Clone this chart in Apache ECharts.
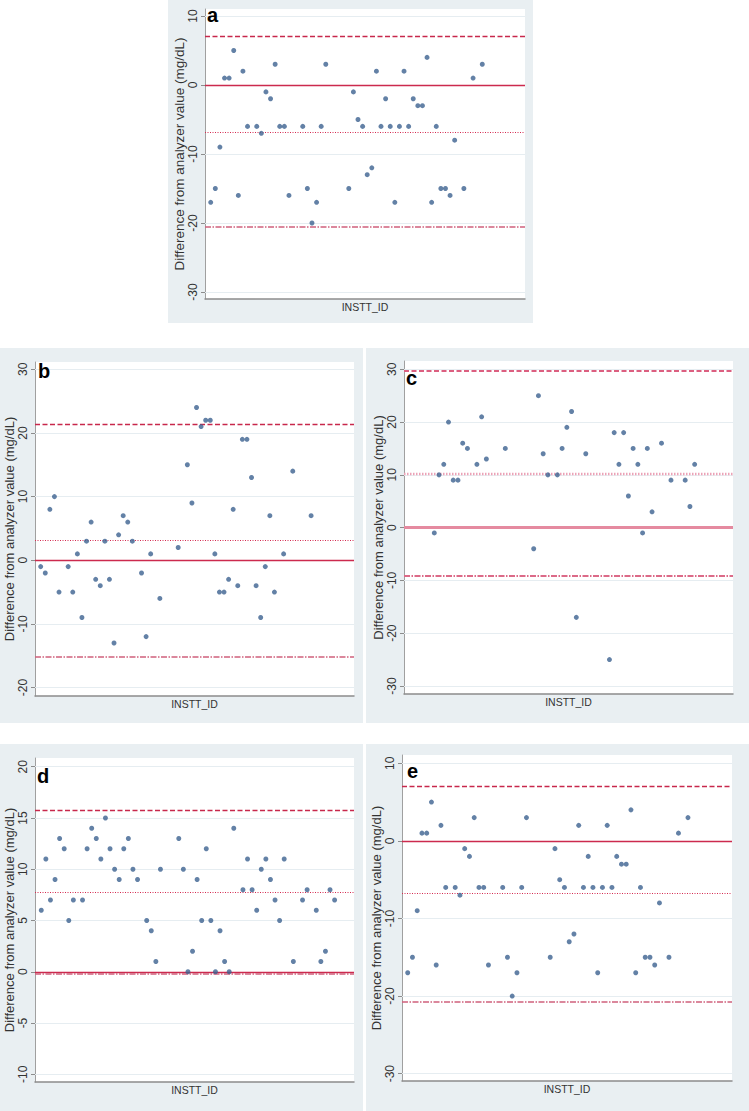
<!DOCTYPE html>
<html><head><meta charset="utf-8">
<script src="https://cdn.jsdelivr.net/npm/echarts@6/dist/echarts.min.js"></script>
<style>html,body{margin:0;padding:0;background:#fff}#c{width:749px;height:1111px}</style>
</head><body><div id="c"></div>
<script>
// ---------- DATA ----------
// Panels a and e show the same data
const aeIdx = [0,1,2,3,4,5,6,7,8,10,11,12,13,14,15,16,17,20,21,22,23,24,25,30,31,32,33,34,35,36,37,38,39,40,41,42,43,44,45,46,47,48,49,50,51,52,53,55,57,59];
const aeDiff = [-17,-15,-9,1,1,5,-16,2,-6,-6,-7,-1,-2,3,-6,-6,-16,-6,-15,-20,-17,-6,3,-15,-1,-5,-6,-13,-12,2,-6,-2,-6,-17,-6,2,-6,-2,-3,-3,4,-17,-6,-15,-15,-16,-8,-15,1,3];
const bIdx = [0,1,2,3,4,6,7,8,9,10,11,12,13,14,15,16,17,18,19,20,22,23,24,26,30,32,33,34,35,36,37,38,39,40,41,42,43,44,45,46,47,48,49,50,51,53,55,59];
const bDiff = [-1,-2,8,10,-5,-1,-5,1,-9,3,6,-3,-4,3,-3,-13,4,7,6,3,-2,-12,1,-6,2,15,9,24,21,22,22,1,-5,-5,-3,8,-4,19,19,13,-4,-9,-1,7,-5,1,14,7];
const cIdx = [0,1,2,3,4,5,6,7,9,10,11,15,21,22,23,24,26,27,28,29,30,32,37,38,39,40,41,42,43,44,45,46,48,50,53,54,55];
const cDiff = [-1,10,12,20,9,9,16,15,12,21,13,15,-4,25,14,10,10,15,19,22,-17,14,-25,18,12,18,6,15,12,-1,15,3,16,9,9,4,12];
const dIdx = [0,1,2,3,4,5,6,7,9,10,11,12,13,14,15,16,17,18,19,20,21,23,24,25,26,30,31,32,33,34,35,36,37,38,39,40,41,42,44,45,46,47,48,49,50,51,52,53,55,57,58,60,61,62,63,64];
const dDiff = [6,11,7,9,13,12,5,7,7,12,14,13,11,15,12,10,9,12,13,10,9,5,4,1,10,13,10,0,2,9,5,12,5,0,4,1,0,14,8,11,8,6,10,11,9,7,5,11,1,7,8,6,1,2,8,7];
// reference lines: [upper limit (dashed), mean (dotted), zero (solid), lower limit (dash-dot)]
const aRef = [7.1, -6.8, 0, -20.6];
const bRef = [21.4, 3.1, 0, -15.2];
const cRef = [29.8, 10.2, 0, -9.2];
const dRef = [15.8, 7.8, 0, -0.2];
const eRef = [7.1, -6.8, 0, -20.7];
// y tick labels
const aTicks = [-30,-20,-10,0,10];
const bTicks = [-20,-10,0,10,20,30];
const cTicks = [-30,-20,-10,0,10,20,30];
const dTicks = [-10,-5,0,5,10,15,20];
const eTicks = [-30,-20,-10,0,10];
const panelLetters = ['a','b','c','d','e'];
const yTitle = 'Difference from analyzer value (mg/dL)';
const xTitle = 'INSTT_ID';

// ---------- LAYOUT / STYLE ----------
const layout = [
  {bg:[168,0,365,323], grid:[205,9,320,290], x:[-1.24,68.28], y:[-31.01,11.01], letter:[207,15]},
  {bg:[0,348,363,375], grid:[35,362,319,334], x:[-1.24,68.36], y:[-21.33,31.15], letter:[38,371]},
  {bg:[366,348,383,375], grid:[404,361,329,333], x:[-6.4,63.1], y:[-31.52,31.57], letter:[406,378]},
  {bg:[0,744,363,367], grid:[35,758,319,324], x:[-1.37,68.23], y:[-10.75,20.85], letter:[37,776]},
  {bg:[366,744,383,367], grid:[402,755,330,326], x:[-1.2,68.27], y:[-30.95,11.07], letter:[407,771]}
];
const data = [[aeIdx,aeDiff],[bIdx,bDiff],[cIdx,cDiff],[dIdx,dDiff],[aeIdx,aeDiff]];
const refs = [aRef,bRef,cRef,dRef,eRef];
const ticks = [aTicks,bTicks,cTicks,dTicks,eTicks];

const normalStyles = [
  {type:[5,2.5], color:'#c8284c', width:1.3},
  {type:[1,1.5], color:'#d42a50', width:1},
  {type:'solid', color:'#cc2a4e', width:1.3},
  {type:[6,1.5,1.5,1.5], color:'#d0607c', width:1.6}
];
const pinkStyles = [
  {type:[5,2.5], color:'#dc5f80', width:1.8},
  {type:[1.5,1.5], color:'#eba2b6', width:2.4},
  {type:'solid', color:'#e58aa0', width:3},
  {type:[6,1.5,1.5,1.5], color:'#dc6a88', width:2}
];

// narrow font detection for the x title
function hasFont(f){
  const cv=document.createElement('canvas').getContext('2d');
  cv.font='20px monospace'; const w0=cv.measureText('INSTT_ID abcmw').width;
  cv.font='20px "'+f+'", monospace'; return cv.measureText('INSTT_ID abcmw').width!==w0;
}
const narrow = hasFont('Liberation Sans Narrow');
const xNameStyle = narrow ? {fontFamily:'"Liberation Sans Narrow"', fontSize:12.5} : {fontFamily:'"Liberation Sans"', fontSize:10.5};

const chart = echarts.init(document.getElementById('c'), null, {renderer:'svg', width:749, height:1111});
const option = {animation:false, backgroundColor:'#ffffff', grid:[], xAxis:[], yAxis:[], series:[], graphic:{elements:[]}};

layout.forEach((L,i)=>{
  option.graphic.elements.push({type:'rect', z:-100, shape:{x:L.bg[0], y:L.bg[1], width:L.bg[2], height:L.bg[3]}, style:{fill:'#e9eff2'}, silent:true});
  option.graphic.elements.push({type:'text', z:100, x:L.letter[0], y:L.letter[1], style:{text:panelLetters[i], font:'bold 20px "Liberation Sans", Arial, sans-serif', fill:'#000', textAlign:'left', textVerticalAlign:'middle'}, silent:true});
  option.grid.push({left:L.grid[0], top:L.grid[1], width:L.grid[2], height:L.grid[3], show:true, backgroundColor:'#ffffff', borderWidth:0});
  option.xAxis.push({gridIndex:i, type:'value', min:L.x[0], max:L.x[1],
    axisLabel:{show:false}, axisTick:{show:false}, splitLine:{show:false},
    axisLine:{show:true, onZero:false, lineStyle:{color:'#8c8c8c', width:1.5}},
    name:xTitle, nameLocation:'middle', nameGap:2,
    nameTextStyle:Object.assign({color:'#333'}, xNameStyle)});
  option.yAxis.push({gridIndex:i, type:'value', min:L.y[0], max:L.y[1],
    axisLine:{show:true, onZero:false, lineStyle:{color:'#a0a0a0', width:1}},
    axisTick:{show:true, length:4, customValues:ticks[i], lineStyle:{color:'#8c8c8c'}},
    axisLabel:{show:true, rotate:90, margin:6, customValues:ticks[i], fontSize:12, fontFamily:'"Liberation Sans"', color:'#333'},
    splitLine:{show:false},
    name:yTitle, nameLocation:'middle', nameRotate:90, nameGap:12,
    nameTextStyle:{fontSize:i===0?13.5:13, fontFamily:'"Liberation Sans"', color:'#333'}});
  const styles = i===2 ? pinkStyles : normalStyles;
  const ml = ticks[i].map(v=>({yAxis:v, lineStyle:{color:'#e6edf1', width:1, type:'solid'}}));
  refs[i].forEach((v,k)=>ml.push({yAxis:v, lineStyle:styles[k]}));
  const pts = data[i][0].map((x,k)=>[x, data[i][1][k]]);
  option.series.push({type:'scatter', xAxisIndex:i, yAxisIndex:i, data:pts, symbol:'circle', symbolSize:5,
    itemStyle:{color:'#3c6290'}, z:3, silent:true,
    markLine:{z:1, silent:true, symbol:['none','none'], label:{show:false}, animation:false, data:ml}});
});
chart.setOption(option);
</script></body></html>
